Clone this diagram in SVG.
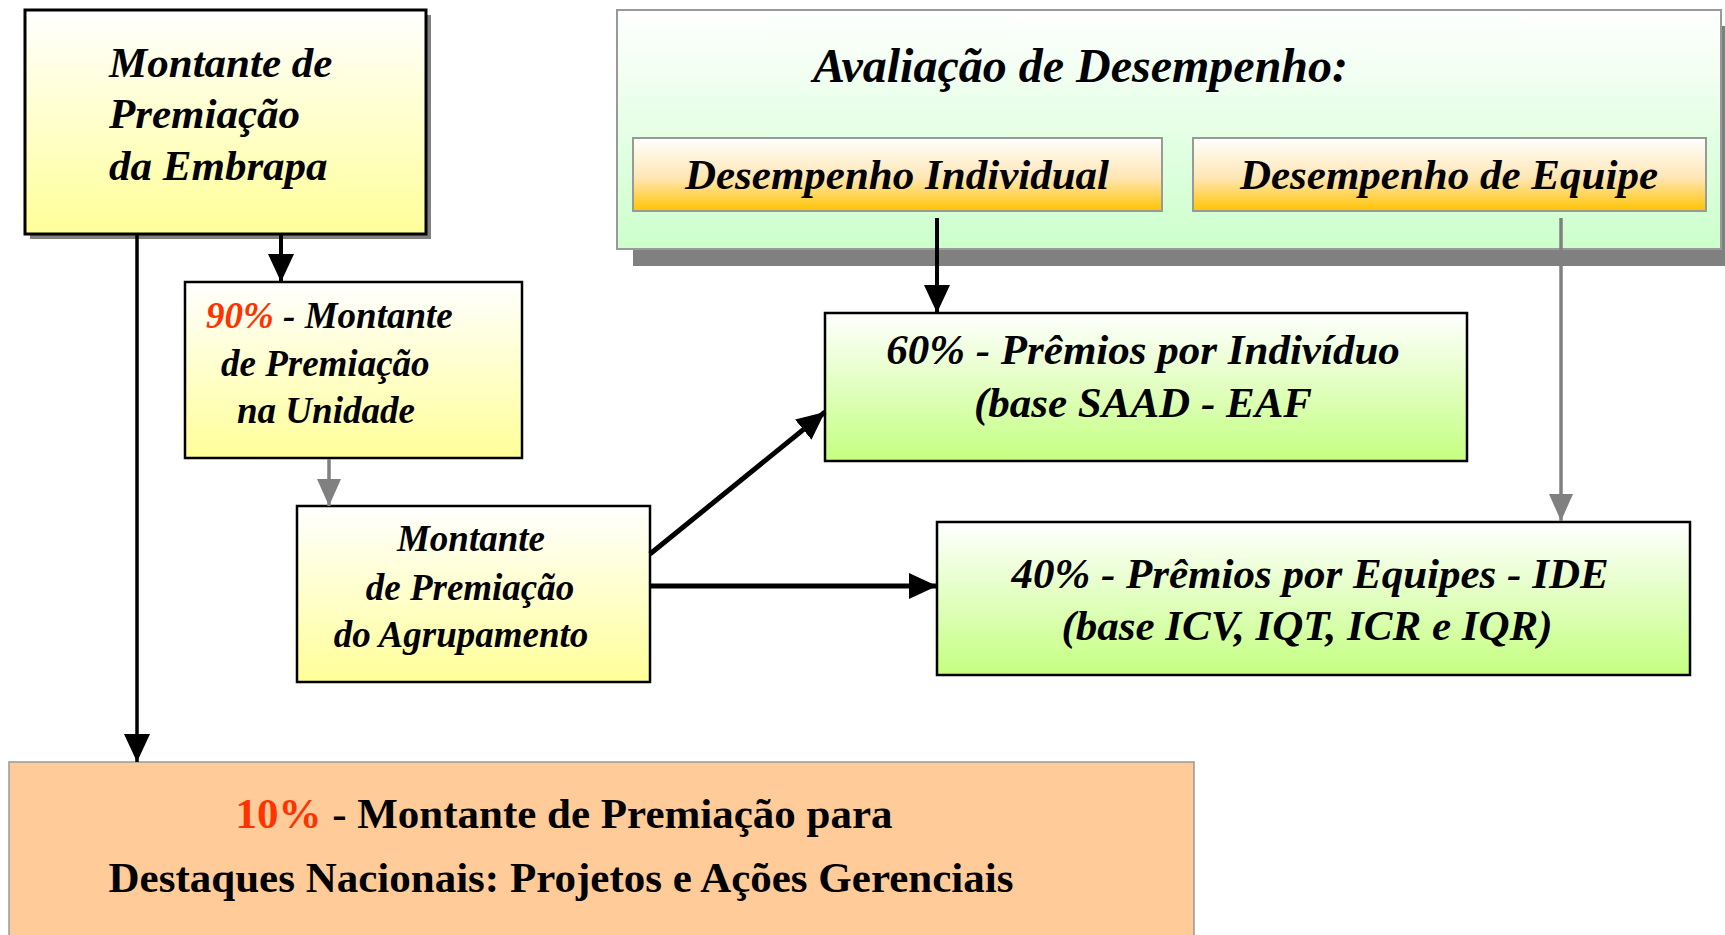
<svg xmlns="http://www.w3.org/2000/svg" width="1725" height="935" viewBox="0 0 1725 935">
<style>
.bi{font-family:"Liberation Serif","Times New Roman",serif;font-weight:bold;font-style:italic;fill:#000}
.b{font-family:"Liberation Serif","Times New Roman",serif;font-weight:bold;fill:#000}
.red{fill:#ff3300}
.blk{stroke:#000;fill:none}
.gry{stroke:#808080;fill:none}
</style>
<defs>
<linearGradient id="yel" x1="0" y1="0" x2="0" y2="1"><stop offset="0" stop-color="#ffffff"/><stop offset="1" stop-color="#ffff99"/></linearGradient>
<linearGradient id="grn" x1="0" y1="0" x2="0" y2="1"><stop offset="0" stop-color="#ffffff"/><stop offset="1" stop-color="#ccffcc"/></linearGradient>
<linearGradient id="org" x1="0" y1="0" x2="0" y2="1"><stop offset="0" stop-color="#ffffff"/><stop offset="0.55" stop-color="#ffe6b3"/><stop offset="1" stop-color="#ffc400"/></linearGradient>
<linearGradient id="lim" x1="0" y1="0" x2="0" y2="1"><stop offset="0" stop-color="#ffffff"/><stop offset="1" stop-color="#c4ff80"/></linearGradient>
<marker id="ab" markerUnits="userSpaceOnUse" markerWidth="28" markerHeight="26" refX="28" refY="13" orient="auto"><path d="M0,0 L28,13 L0,26 z" fill="#000"/></marker>
<marker id="ag" markerUnits="userSpaceOnUse" markerWidth="27" markerHeight="24" refX="27" refY="12" orient="auto"><path d="M0,0 L27,12 L0,24 z" fill="#808080"/></marker>
</defs>

<g id="avaliacao">
<rect x="633" y="26" width="1092" height="240" fill="#808080"/>
<rect x="617" y="10" width="1104" height="239" fill="url(#grn)" stroke="#999" stroke-width="2"/>
<text class="bi" x="813" y="82" font-size="48">Avaliação de Desempenho:</text>
</g>

<g id="desemp-individual">
<rect x="633" y="138" width="529" height="73" fill="url(#org)" stroke="#999" stroke-width="2"/>
<text class="bi" x="897" y="189" font-size="43" text-anchor="middle">Desempenho Individual</text>
</g>

<g id="desemp-equipe">
<rect x="1193" y="138" width="513" height="73" fill="url(#org)" stroke="#999" stroke-width="2"/>
<text class="bi" x="1449" y="189" font-size="43" text-anchor="middle">Desempenho de Equipe</text>
</g>

<g id="embrapa">
<rect x="30" y="15" width="401" height="224" fill="#808080"/>
<rect x="25" y="10" width="401" height="224" fill="url(#yel)" stroke="#000" stroke-width="3"/>
<text class="bi" x="109" y="77" font-size="43">Montante de</text>
<text class="bi" x="109" y="128" font-size="43">Premiação</text>
<text class="bi" x="109" y="180" font-size="43">da Embrapa</text>
</g>

<g id="unidade">
<rect x="185" y="282" width="337" height="176" fill="url(#yel)" stroke="#000" stroke-width="2.5"/>
<text class="bi" x="206" y="328" font-size="37"><tspan class="red">90%</tspan> - Montante</text>
<text class="bi" x="221" y="376" font-size="37">de Premiação</text>
<text class="bi" x="237" y="423" font-size="37">na Unidade</text>
</g>

<g id="agrupamento">
<rect x="297" y="506" width="353" height="176" fill="url(#yel)" stroke="#000" stroke-width="2.5"/>
<text class="bi" x="471" y="551" font-size="37" text-anchor="middle">Montante</text>
<text class="bi" x="470" y="600" font-size="37" text-anchor="middle">de Premiação</text>
<text class="bi" x="461" y="647" font-size="37" text-anchor="middle">do Agrupamento</text>
</g>

<g id="individuo">
<rect x="825" y="313" width="642" height="148" fill="url(#lim)" stroke="#000" stroke-width="2.5"/>
<text class="bi" x="1143" y="364" font-size="43" text-anchor="middle">60% - Prêmios por Indivíduo</text>
<text class="bi" x="1143" y="417" font-size="43" text-anchor="middle">(base SAAD - EAF</text>
</g>

<g id="equipes">
<rect x="937" y="522" width="753" height="153" fill="url(#lim)" stroke="#000" stroke-width="2.5"/>
<text class="bi" x="1310" y="588" font-size="43" text-anchor="middle">40% - Prêmios por Equipes - IDE</text>
<text class="bi" x="1307" y="640" font-size="43" text-anchor="middle">(base ICV, IQT, ICR e IQR)</text>
</g>

<g id="destaques">
<rect x="9" y="762" width="1185" height="190" fill="#ffcc99" stroke="#999" stroke-width="1.5"/>
<text class="b" x="564" y="828" font-size="43" text-anchor="middle"><tspan class="red">10%</tspan> - Montante de Premiação para</text>
<text class="b" x="561" y="892" font-size="43" text-anchor="middle">Destaques Nacionais: Projetos e Ações Gerenciais</text>
</g>

<g id="connectors">
<line class="blk" x1="281" y1="234" x2="281" y2="282" stroke-width="4" marker-end="url(#ab)"/>
<line class="blk" x1="137" y1="235" x2="137" y2="762" stroke-width="3.5" marker-end="url(#ab)"/>
<line class="gry" x1="329" y1="459" x2="329" y2="506" stroke-width="3.5" marker-end="url(#ag)"/>
<line class="blk" x1="650" y1="554" x2="825" y2="412" stroke-width="5" marker-end="url(#ab)"/>
<line class="blk" x1="650" y1="586" x2="937" y2="586" stroke-width="5" marker-end="url(#ab)"/>
<line class="blk" x1="937" y1="218" x2="937" y2="313" stroke-width="4" marker-end="url(#ab)"/>
<line class="gry" x1="1561" y1="218" x2="1561" y2="521" stroke-width="3.5" marker-end="url(#ag)"/>
</g>
</svg>
